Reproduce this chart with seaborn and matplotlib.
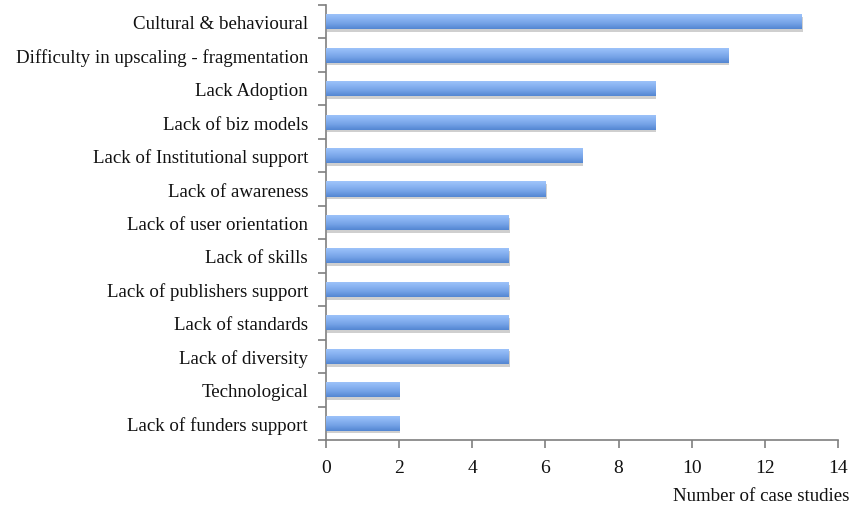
import numpy as np
import pandas as pd
import matplotlib
matplotlib.use("Agg")
import matplotlib.pyplot as plt
from matplotlib.colors import LinearSegmentedColormap
from matplotlib.patches import Rectangle
import seaborn as sns

categories = [
    "Cultural & behavioural",
    "Difficulty in upscaling - fragmentation",
    "Lack Adoption",
    "Lack of biz models",
    "Lack of Institutional support",
    "Lack of awareness",
    "Lack of user orientation",
    "Lack of skills",
    "Lack of publishers support",
    "Lack of standards",
    "Lack of diversity",
    "Technological",
    "Lack of funders support",
]
case_counts = [13, 11, 9, 9, 7, 6, 5, 5, 5, 5, 5, 2, 2]
x_ticks = [0, 2, 4, 6, 8, 10, 12, 14]

df = pd.DataFrame({"barrier": categories, "count": case_counts})

sns.set_theme(style="white")
plt.rcParams["font.family"] = ["Liberation Serif", "DejaVu Serif"]

fig = plt.figure(figsize=(8.54, 5.10), dpi=100)
ax = fig.add_axes([0.3817, 0.1353, 0.5996, 0.853])

sns.barplot(data=df, x="count", y="barrier", orient="h", width=0.45,
            color="#7aa7e8", edgecolor="none", ax=ax)

# gradient fill with a soft drop shadow for each bar
grad = LinearSegmentedColormap.from_list(
    "bar", ["#a0c5fb", "#8ab4f2", "#72a0e5", "#5386d2"])
ramp = np.linspace(0, 1, 64).reshape(-1, 1)
for p in list(ax.patches):
    x0, y0 = p.get_x(), p.get_y()
    w, h = p.get_width(), p.get_height()
    shadow = Rectangle((x0 + 0.03, y0 + 0.08), w, h, facecolor="#a9a9a9",
                       edgecolor="none", alpha=0.55, zorder=1)
    ax.add_patch(shadow)
    p.set_zorder(2)
    im = ax.imshow(ramp, cmap=grad, aspect="auto", zorder=3,
                   extent=(x0, x0 + w, y0 + h, y0), interpolation="bicubic")
    im.set_clip_path(p)

ax.set_xlim(0, 14)
ax.set_ylim(len(categories) - 0.5, -0.5)
ax.set_xticks(x_ticks)
ax.set_xticklabels([str(t) for t in x_ticks], fontsize=14)
ax.set_yticks(range(len(categories)))
ax.set_yticklabels(categories, fontsize=13.6)
ax.set_yticks(np.arange(-0.5, len(categories), 1.0), minor=True)
ax.tick_params(axis="y", which="major", left=True, length=0, pad=13, labelcolor="#111111")
ax.tick_params(axis="y", which="minor", left=True, length=6, width=1.2,
               color="#7f7f7f", direction="out")
ax.tick_params(axis="x", which="major", bottom=True, length=6, width=1.2, color="#7f7f7f",
               direction="out", pad=8, labelcolor="#111111")

for side in ("top", "right"):
    ax.spines[side].set_visible(False)
for side in ("left", "bottom"):
    ax.spines[side].set_color("#7f7f7f")
    ax.spines[side].set_linewidth(1.2)

ax.set_ylabel("")
ax.set_xlabel("")
fig.text(0.995, 1 - 497 / 510, "Number of case studies", fontsize=13.6,
         color="#111111", ha="right", va="center")

fig.savefig("out.png", dpi=100)
